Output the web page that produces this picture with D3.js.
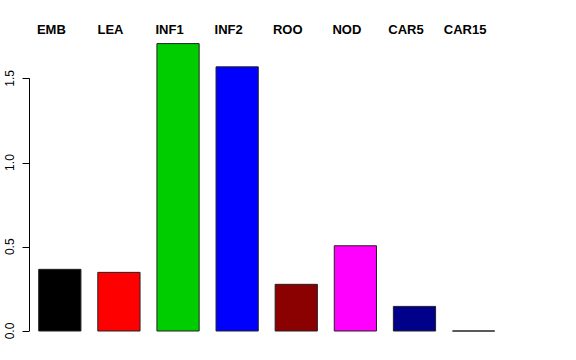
<!DOCTYPE html>
<html>
<head>
<meta charset="utf-8">
<script src="https://cdn.jsdelivr.net/npm/d3@7"></script>
<style>
  body { margin: 0; background: #fff; }
  svg { display: block; font-family: "Liberation Sans", Arial, sans-serif; }
</style>
</head>
<body>
<div id="chart"></div>
<script>
const categories = ["EMB", "LEA", "INF1", "INF2", "ROO", "NOD", "CAR5", "CAR15"];
const values = [0.366, 0.348, 1.706, 1.568, 0.277, 0.506, 0.146, 0.0];
const barColors = ["#000000", "#FF0000", "#00CD00", "#0000FF", "#8B0000", "#FF00FF", "#00008B", "#FFFFFF"];
const yTicks = [0, 0.5, 1.0, 1.5];

const width = 576, height = 360;

const svg = d3.select("#chart").append("svg")
    .attr("width", width)
    .attr("height", height);

const x = d3.scaleBand()
    .domain(categories)
    .range([38.7, 494.7])
    .paddingInner(0.4 / 1.4)
    .paddingOuter(0);

const y = d3.scaleLinear()
    .domain([0, 1.5])
    .range([331, 78.3]);

// bars as paths so a zero-height bar still shows its outline
svg.append("g")
  .selectAll("path")
  .data(categories)
  .enter()
  .append("path")
    .attr("d", (d, i) => {
        let p = d3.path();
        p.rect(x(d), y(values[i]), x.bandwidth(), y(0) - y(values[i]));
        return p.toString();
    })
    .style("fill", (d, i) => barColors[i])
    .style("stroke", "#222")
    .style("stroke-width", 1);

// category labels along the top
svg.append("g")
  .selectAll("text")
  .data(categories)
  .enter()
  .append("text")
    .attr("x", d => x(d) + x.bandwidth() / 2 - 0.2 * x.bandwidth())
    .attr("y", 34)
    .attr("text-anchor", "middle")
    .style("font-size", "13px")
    .style("font-weight", "bold")
    .text(d => d);

// y axis in R style
const axis = svg.append("g")
    .attr("transform", "translate(29.5,0)");

axis.append("line")
    .attr("y1", y(0))
    .attr("y2", y(1.5))
    .style("stroke", "#000");

axis.selectAll(".tick")
  .data(yTicks)
  .enter()
  .append("line")
    .attr("class", "tick")
    .attr("x1", 0)
    .attr("x2", -7)
    .attr("y1", d => Math.round(y(d)) + 0.5)
    .attr("y2", d => Math.round(y(d)) + 0.5)
    .style("stroke", "#000");

svg.append("g")
  .selectAll("text")
  .data(yTicks)
  .enter()
  .append("text")
    .attr("transform", d => `translate(13.5,${y(d)}) rotate(-90)`)
    .attr("text-anchor", "middle")
    .style("font-size", "12px")
    .text(d => d3.format(".1f")(d));
</script>
</body>
</html>
